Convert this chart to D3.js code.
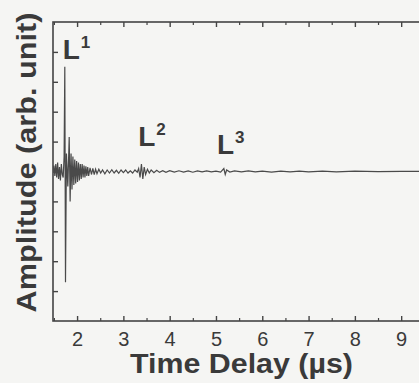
<!DOCTYPE html>
<html>
<head>
<meta charset="utf-8">
<script src="https://cdn.jsdelivr.net/npm/d3@7"></script>
<style>
  body { margin: 0; background: #f5f5f3; }
  svg { display: block; overflow: hidden; }
</style>
</head>
<body>
<div id="chart"></div>
<script>
// waveform (time in µs, amplitude in arb. units)
const timeUs = [
  1.48, 1.50, 1.52, 1.54, 1.56, 1.58, 1.60, 1.62, 1.64, 1.66, 1.68, 1.70, 1.72,
  1.735, 1.75, 1.77, 1.80, 1.83, 1.85, 1.87, 1.89, 1.91, 1.93, 1.95, 1.97, 1.99,
  2.01, 2.03, 2.05, 2.07, 2.09, 2.11, 2.13, 2.15, 2.17, 2.19, 2.21, 2.23, 2.25,
  2.28, 2.31, 2.34, 2.37, 2.40, 2.43, 2.47, 2.51, 2.55, 2.60, 2.65, 2.70, 2.75,
  2.80, 2.85, 2.90, 2.95, 3.00, 3.05, 3.10, 3.15, 3.20, 3.25, 3.30, 3.33, 3.36,
  3.39, 3.42, 3.45, 3.48, 3.52, 3.56, 3.60, 3.66, 3.72, 3.78, 3.85, 3.92, 4.00,
  4.10, 4.20, 4.30, 4.40, 4.50, 4.60, 4.70, 4.80, 4.90, 5.00, 5.10, 5.17, 5.20,
  5.23, 5.30, 5.40, 5.55, 5.70, 5.85, 6.00, 6.20, 6.40, 6.60, 6.80, 7.00, 7.30,
  7.60, 8.00, 8.50, 9.00, 9.50, 10.0
];
const amplitude = [
  0.00, 0.04, -0.03, 0.05, -0.04, 0.06, -0.05, 0.03, -0.06, 0.05, -0.02, -0.04, 0.10,
  0.70, -0.74, 0.12, -0.10, 0.23, -0.20, 0.12, -0.12, 0.10, -0.09, 0.08, -0.08, 0.07,
  -0.07, 0.06, -0.06, 0.05, -0.05, 0.05, -0.04, 0.04, -0.04, 0.035, -0.03, 0.03, -0.03,
  0.025, -0.02, 0.02, -0.02, 0.015, -0.015, 0.015, -0.01, 0.01, -0.015, 0.01, -0.01, 0.012,
  -0.01, 0.008, -0.012, 0.01, -0.008, 0.01, -0.01, 0.005, -0.01, 0.01, -0.005, 0.02, -0.04,
  0.05, -0.05, 0.03, -0.02, 0.015, -0.01, 0.01, -0.008, 0.008, -0.006, 0.006, -0.005, 0.005,
  -0.004, 0.005, -0.004, 0.004, -0.005, 0.004, -0.003, 0.004, -0.003, 0.003, -0.004, 0.02, -0.02,
  0.01, -0.004, 0.004, -0.003, 0.004, -0.003, 0.003, -0.004, 0.003, -0.003, 0.003, -0.002, 0.002,
  -0.002, 0.002, -0.001, 0.001, 0.0, 0.0
];
const xTicks = [2, 3, 4, 5, 6, 7, 8, 9];
const xMinor = [1.5, 2.5, 3.5, 4.5, 5.5, 6.5, 7.5, 8.5];
const yTicks = [-0.8, -0.6, -0.4, -0.2, 0, 0.2, 0.4, 0.6, 0.8];
const peakLabels = [
  { t: 1.69, a: 0.75, sup: '1' },
  { t: 3.32, a: 0.17, sup: '2' },
  { t: 5.02, a: 0.12, sup: '3' }
];

const W = 419, H = 383;
const margin = { top: 22, left: 53, bottom: 62 };
const ink = '#3a3a3a';
const font = 'Liberation Sans, Arial, sans-serif';

const svg = d3.select('#chart').append('svg')
  .attr('width', W)
  .attr('height', H);

const x = d3.scaleLinear().domain([1.48, 10]).range([margin.left, margin.left + 8.52 * 46.3]);
const y = d3.scaleLinear().domain([-1, 1]).range([H - margin.bottom, margin.top]);

const x0 = x.range()[0], x1 = x.range()[1];
const yTop = margin.top, yBot = H - margin.bottom;

// frame
svg.append('rect')
  .attr('x', x0).attr('y', yTop)
  .attr('width', x1 - x0).attr('height', yBot - yTop)
  .attr('fill', 'none').attr('stroke', '#444').attr('stroke-width', 1.6);

// bottom axis, ticks pointing inward
const bottom = svg.append('g')
  .attr('transform', `translate(0, ${yBot})`)
  .call(d3.axisBottom(x).tickValues(xTicks).tickSizeInner(-5).tickSizeOuter(0).tickPadding(11).tickFormat(d3.format('d')));
bottom.select('.domain').remove();
bottom.selectAll('line').attr('stroke', '#444').attr('stroke-width', 1.4);
bottom.selectAll('text')
  .attr('fill', ink)
  .style('font-family', font)
  .style('font-size', '20px');

svg.append('g')
  .attr('transform', `translate(0, ${yBot})`)
  .call(d3.axisBottom(x).tickValues(xMinor).tickSizeInner(-3).tickSizeOuter(0).tickFormat(''))
  .call(g => g.select('.domain').remove())
  .selectAll('line').attr('stroke', '#444').attr('stroke-width', 1.2);

// top axis
svg.append('g')
  .attr('transform', `translate(0, ${yTop})`)
  .call(d3.axisTop(x).tickValues(xTicks).tickSizeInner(-5).tickSizeOuter(0).tickFormat(''))
  .call(g => g.select('.domain').remove())
  .selectAll('line').attr('stroke', '#444').attr('stroke-width', 1.4);
svg.append('g')
  .attr('transform', `translate(0, ${yTop})`)
  .call(d3.axisTop(x).tickValues(xMinor).tickSizeInner(-3).tickSizeOuter(0).tickFormat(''))
  .call(g => g.select('.domain').remove())
  .selectAll('line').attr('stroke', '#444').attr('stroke-width', 1.2);

// left axis, no labels
svg.append('g')
  .attr('transform', `translate(${x0}, 0)`)
  .call(d3.axisLeft(y).tickValues(yTicks).tickSizeInner(-5).tickSizeOuter(0).tickFormat(''))
  .call(g => g.select('.domain').remove())
  .selectAll('line').attr('stroke', '#444').attr('stroke-width', 1.4);

// signal
const pts = timeUs.map((t, i) => [t, amplitude[i]]);
svg.append('defs').append('clipPath').attr('id', 'plot')
  .append('rect').attr('x', x0).attr('y', yTop).attr('width', x1 - x0).attr('height', yBot - yTop);
svg.append('path')
  .datum(pts)
  .attr('clip-path', 'url(#plot)')
  .attr('fill', 'none')
  .attr('stroke', '#4a4a4a')
  .attr('stroke-width', 1.2)
  .attr('d', d3.line().x(d => x(d[0])).y(d => y(d[1])));

// peak labels
peakLabels.forEach(p => {
  const t = svg.append('text')
    .attr('x', x(p.t)).attr('y', y(p.a))
    .attr('fill', ink)
    .style('font-family', font)
    .style('font-weight', 'bold')
    .style('font-size', '28px');
  t.append('tspan').text('L');
  t.append('tspan').attr('dx', 1).attr('dy', -11).style('font-size', '17px').text(p.sup);
});

// axis titles
svg.append('text')
  .attr('x', 241.5).attr('y', 373)
  .attr('text-anchor', 'middle')
  .attr('fill', ink)
  .attr('textLength', 223)
  .attr('lengthAdjust', 'spacingAndGlyphs')
  .style('font-family', font)
  .style('font-weight', 'bold')
  .style('font-size', '28px')
  .text('Time Delay (µs)');

svg.append('text')
  .attr('transform', `translate(36, 162.5) rotate(-90)`)
  .attr('text-anchor', 'middle')
  .attr('fill', ink)
  .attr('textLength', 300)
  .attr('lengthAdjust', 'spacingAndGlyphs')
  .style('font-family', font)
  .style('font-weight', 'bold')
  .style('font-size', '28px')
  .text('Amplitude (arb. unit)');
</script>
</body>
</html>
